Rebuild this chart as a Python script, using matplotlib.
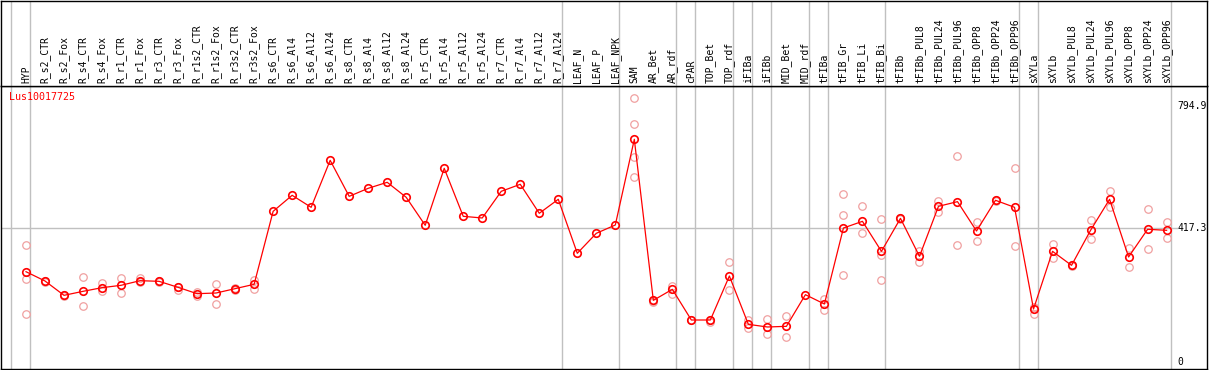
import numpy as np
import matplotlib
matplotlib.use("Agg")
import matplotlib.pyplot as plt
import matplotlib.transforms as mtransforms

# sample names (columns), left to right
samples = [
    "HYP", "R_s2_CTR", "R_s2_Fox", "R_s4_CTR", "R_s4_Fox", "R_r1_CTR", "R_r1_Fox",
    "R_r3_CTR", "R_r3_Fox", "R_r1s2_CTR", "R_r1s2_Fox", "R_r3s2_CTR", "R_r3s2_Fox",
    "R_s6_CTR", "R_s6_Al4", "R_s6_Al12", "R_s6_Al24", "R_s8_CTR", "R_s8_Al4",
    "R_s8_Al12", "R_s8_Al24", "R_r5_CTR", "R_r5_Al4", "R_r5_Al12", "R_r5_Al24",
    "R_r7_CTR", "R_r7_Al4", "R_r7_Al12", "R_r7_Al24", "LEAF_N", "LEAF_P", "LEAF_NPK",
    "SAM", "AR_Bet", "AR_rdf", "cPAR", "TOP_Bet", "TOP_rdf", "iFIBa", "iFIBb",
    "MID_Bet", "MID_rdf", "tFIBa", "tFIB_Gr", "tFIB_Li", "tFIB_Bi", "tFIBb",
    "tFIBb_PUL8", "tFIBb_PUL24", "tFIBb_PUL96", "tFIBb_OPP8", "tFIBb_OPP24",
    "tFIBb_OPP96", "sXYLa", "sXYLb", "sXYLb_PUL8", "sXYLb_PUL24", "sXYLb_PUL96",
    "sXYLb_OPP8", "sXYLb_OPP24", "sXYLb_OPP96",
]
# number of samples in each tissue group (separated by grey lines)
group_sizes = [1, 28, 3, 3, 1, 2, 1, 1, 2, 1, 3, 7, 1, 7]

# mean expression per sample
means = [
    280.6, 251.7, 207.2, 219.6, 231.0, 238.3, 252.7, 250.7, 232.0, 212.3, 214.4, 227.9, 241.4,
    468.2, 518.0, 480.7, 626.7, 514.8, 539.7, 558.4, 511.8, 424.7, 601.9, 452.7, 447.5,
    530.4, 552.2, 462.1, 505.6,
    337.8, 399.9, 425.7,
    692.0, 191.6, 225.8,
    130.5,
    130.5, 267.2,
    117.0,
    108.8,
    110.8, 209.2,
    180.2,
    416.4, 437.1, 343.9,
    446.4, 328.4, 483.8, 498.3, 407.1, 502.5, 480.7,
    164.7,
    343.9, 300.4, 409.2, 505.6, 326.3, 412.4, 409.2,
]

# individual replicate values (ragged)
replicates = [
    [363.6, 259.0, 149.2], [253, 250], [209, 205], [263.1, 173.1], [244.5, 221.6],
    [260.0, 213.5], [260.0, 248.0], [253, 248], [233, 225], [218.5, 204.1],
    [241.4, 181.2], [230, 224], [253.8, 225.9],
    [], [], [], [], [], [], [], [], [], [], [], [], [], [], [], [],
    [], [], [],
    [819.5, 738.7, 637.0, 574.0], [190, 188], [237, 211.3],
    [130],
    [123.3, 131], [310.7, 222.8],
    [129.5, 105.7],
    [133.6, 86.1],
    [141.9, 78.7], [],
    [194.8, 162.6],
    [521.1, 455.8, 269.3], [483.8, 401.9], [443.4, 333.4, 253.8],
    [447, 445], [344.9, 311.7], [500.3, 467.1], [640.2, 362.6], [434.1, 375.1],
    [504, 501], [602.9, 359.5],
    [171.8, 148.2],
    [366.7, 324.2], [302, 299], [440.3, 381.2], [530.4, 482.8], [353.3, 294.3],
    [475.5, 350.2], [435.0, 384.4],
]

axis_labels = ["794.9", "417.3", "0"]
gene = "Lus10017725"

W, H = 1209, 370
fig = plt.figure(figsize=(W / 100, H / 100), dpi=100)
mono = "DejaVu Sans Mono"

# pixel geometry of the box
x_left, x_right = 1, 1207
y_head, y_bot = 86, 369
x0, step = 26, 19.01
xlim = ((x_left - x0) / step, (x_right - x0) / step)
px_per_unit = 0.3218
ylim = ((362 - y_bot) / px_per_unit, (362 - y_head) / px_per_unit)

ax = fig.add_axes([x_left / W, (H - y_bot) / H, (x_right - x_left) / W, (y_bot - y_head) / H])
hd = fig.add_axes([x_left / W, (H - y_head) / H, (x_right - x_left) / W, (y_head - 0.5) / H])

for a in (ax, hd):
    a.set_xlim(*xlim)
    a.set_xticks([])
    a.set_yticks([])
    for s in a.spines.values():
        s.set_color("black")
        s.set_linewidth(1.0)
ax.set_ylim(*ylim)
hd.set_ylim(0, 1)

# group separators
bounds = np.concatenate([[-1], np.cumsum(group_sizes) - 1]) + 0.21
for b in bounds:
    ax.axvline(b, color="#c0c0c0", lw=1, zorder=0)
    hd.axvline(b, color="#c0c0c0", lw=1, zorder=0)

ax.axhline(417.3, xmax=0.975, color="#c0c0c0", lw=1, zorder=0)

xs = np.arange(len(samples))
for i, name in enumerate(samples):
    hd.text(i, 0.035, name, rotation=90, ha="center", va="bottom",
            fontsize=7, family=mono, color="black")

rx = [i for i, r in enumerate(replicates) for _ in r]
ry = [v for r in replicates for v in r]
ax.plot(rx, ry, "o", ls="none", ms=5.4, mfc="none", mec="#f0a0a0", mew=0.9, zorder=2)
ax.plot(xs, means, "-", color="red", lw=0.9, zorder=3)
ax.plot(xs, means, "o", ls="none", ms=5.4, mfc="none", mec="red", mew=1.2, zorder=4)

trans = mtransforms.blended_transform_factory(ax.transAxes, ax.transData)
for lab in axis_labels:
    ax.text(0.9755, float(lab), lab, transform=trans, ha="left", va="center",
            fontsize=7, family=mono, color="black")

ax.text(8.5 / (x_right - x_left), (y_bot - 97) / (y_bot - y_head), gene, transform=ax.transAxes,
        ha="left", va="center", fontsize=7.2, family=mono, color="red")

fig.savefig("out.png", dpi=100)
